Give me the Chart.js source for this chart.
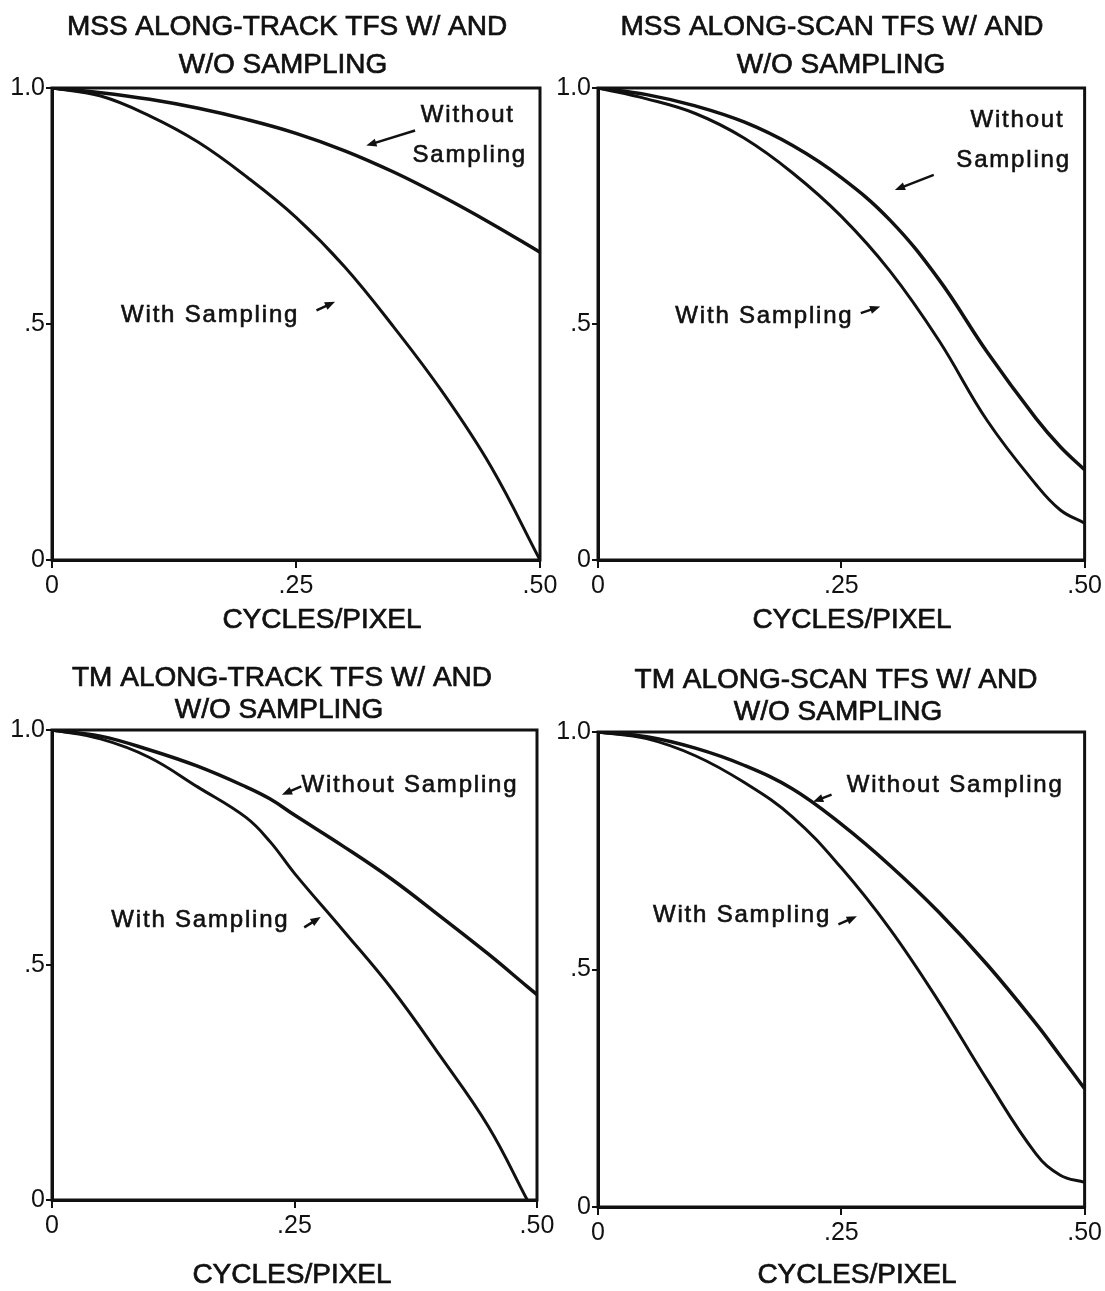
<!DOCTYPE html>
<html>
<head>
<meta charset="utf-8">
<title>TFS with and without sampling</title>
<script src="https://cdn.jsdelivr.net/npm/chart.js@4.4.1/dist/chart.umd.min.js"></script>
<style>
    body { margin: 0; background: #fff; }
    #page { position: relative; width: 1105px; height: 1291px; overflow: hidden; background: #fff; }
    .panel { position: absolute; }
</style>
</head>
<body>
<div id="page">
    <div class="panel" style="left:0;top:0;width:575px;height:645px"><canvas id="c1"></canvas></div>
    <div class="panel" style="left:552px;top:0;width:553px;height:645px"><canvas id="c2"></canvas></div>
    <div class="panel" style="left:0;top:645px;width:575px;height:646px"><canvas id="c3"></canvas></div>
    <div class="panel" style="left:552px;top:645px;width:553px;height:646px"><canvas id="c4"></canvas></div>
</div>
<script>
const xTickLabels = ['0', '.25', '.50'];
const yTickLabels = ['0', '.5', '1.0'];

// MSS along-track
const mssTrackFreq = [0, 0.05, 0.1, 0.15, 0.2, 0.25, 0.3, 0.35, 0.4, 0.45, 0.5];
const mssTrackWithout = [1.0, 0.99, 0.976, 0.957, 0.933, 0.904, 0.867, 0.822, 0.77, 0.713, 0.652];
const mssTrackWith = [1.0, 0.983, 0.941, 0.885, 0.811, 0.726, 0.621, 0.494, 0.356, 0.197, 0.0];

// MSS along-scan
const mssScanFreq = [0, 0.05, 0.1, 0.15, 0.2, 0.25, 0.3, 0.35, 0.4, 0.45, 0.475, 0.5];
const mssScanWithout = [1.0, 0.986, 0.962, 0.928, 0.878, 0.81, 0.72, 0.595, 0.44, 0.3, 0.24, 0.191];
const mssScanWith = [1.0, 0.977, 0.946, 0.894, 0.82, 0.728, 0.612, 0.466, 0.295, 0.16, 0.106, 0.078];

// TM along-track
const tmTrackFreq = [0, 0.05, 0.1, 0.15, 0.2, 0.225, 0.25, 0.3, 0.35, 0.4, 0.45, 0.49, 0.5];
const tmTrackWithout = [1.0, 0.987, 0.958, 0.923, 0.879, 0.853, 0.819, 0.753, 0.683, 0.604, 0.523, 0.454, 0.437];
const tmTrackWith = [1.0, 0.981, 0.942, 0.879, 0.814, 0.762, 0.695, 0.574, 0.45, 0.307, 0.156, 0.0, null];

// TM along-scan
const tmScanFreq = [0, 0.05, 0.1, 0.15, 0.2, 0.25, 0.3, 0.35, 0.4, 0.45, 0.475, 0.5];
const tmScanWithout = [1.0, 0.99, 0.966, 0.93, 0.88, 0.806, 0.719, 0.621, 0.51, 0.386, 0.318, 0.249];
const tmScanWith = [1.0, 0.986, 0.95, 0.894, 0.821, 0.714, 0.585, 0.433, 0.267, 0.112, 0.067, 0.052];

const FONT = '"Liberation Sans", Arial, Helvetica, sans-serif';
const INK = '#111';

const panels = [
    {
        id: 'c1', title: ['MSS ALONG-TRACK TFS W/ AND', 'W/O SAMPLING'],
        freq: mssTrackFreq, without: mssTrackWithout, withS: mssTrackWith,
        pad: { top: 88, right: 35 }, yAxisW: 52, xAxisH: 85,
        titleX: [287, 283], titleY: [27, 65], axisTitle: [322, 620],
        notes: [
            { text: 'Without', x: 0.426, y: 0.943 },
            { text: 'Sampling', x: 0.428, y: 0.858 },
            { text: 'With Sampling', x: 0.162, y: 0.519 }
        ],
        arrows: [[0.372, 0.91, 0.322, 0.878], [0.271, 0.529, 0.29, 0.547]]
    },
    {
        id: 'c2', title: ['MSS ALONG-SCAN TFS W/ AND', 'W/O SAMPLING'],
        freq: mssScanFreq, without: mssScanWithout, withS: mssScanWith,
        pad: { top: 88, right: 20 }, yAxisW: 46, xAxisH: 85,
        titleX: [280, 289], titleY: [27, 65], axisTitle: [300, 620],
        notes: [
            { text: 'Without', x: 0.431, y: 0.932 },
            { text: 'Sampling', x: 0.427, y: 0.847 },
            { text: 'With Sampling', x: 0.171, y: 0.517 }
        ],
        arrows: [[0.345, 0.816, 0.305, 0.784], [0.27, 0.523, 0.29, 0.537]]
    },
    {
        id: 'c3', title: ['TM ALONG-TRACK TFS W/ AND', 'W/O SAMPLING'],
        freq: tmTrackFreq, without: tmTrackWithout, withS: tmTrackWith,
        pad: { top: 85, right: 38 }, yAxisW: 52, xAxisH: 91,
        titleX: [282, 279], titleY: [33, 65], axisTitle: [292, 630],
        notes: [
            { text: 'Without Sampling', x: 0.369, y: 0.883 },
            { text: 'With Sampling', x: 0.153, y: 0.596 }
        ],
        arrows: [[0.257, 0.88, 0.237, 0.862], [0.26, 0.58, 0.277, 0.602]]
    },
    {
        id: 'c4', title: ['TM ALONG-SCAN TFS W/ AND', 'W/O SAMPLING'],
        freq: tmScanFreq, without: tmScanWithout, withS: tmScanWith,
        pad: { top: 87, right: 20 }, yAxisW: 46, xAxisH: 84,
        titleX: [284, 286], titleY: [35, 67], axisTitle: [305, 630],
        notes: [
            { text: 'Without Sampling', x: 0.367, y: 0.888 },
            { text: 'With Sampling', x: 0.148, y: 0.613 }
        ],
        arrows: [[0.24, 0.868, 0.221, 0.853], [0.247, 0.595, 0.266, 0.612]]
    }
];

function toPoints(xs, ys) {
    return xs.map((x, i) => ({ x: x, y: ys[i] }));
}

function drawArrow(ctx, x0, y0, x1, y1) {
    const ang = Math.atan2(y1 - y0, x1 - x0);
    const len = 11;
    ctx.beginPath();
    ctx.moveTo(x0, y0);
    ctx.lineTo(x1 - Math.cos(ang) * len * 0.6, y1 - Math.sin(ang) * len * 0.6);
    ctx.stroke();
    ctx.beginPath();
    ctx.moveTo(x1, y1);
    ctx.lineTo(x1 - len * Math.cos(ang - 0.38), y1 - len * Math.sin(ang - 0.38));
    ctx.lineTo(x1 - len * Math.cos(ang + 0.38), y1 - len * Math.sin(ang + 0.38));
    ctx.closePath();
    ctx.fill();
}

// slightly heavier text, like the printed original
function inkText(ctx, text, x, y) {
    ctx.fillText(text, x, y);
    ctx.strokeText(text, x, y);
}

// frame, titles, notes and arrows
const decorPlugin = {
    id: 'decor',
    afterDatasetsDraw(chart, args, opts) {
        const { ctx, chartArea: a, scales: { x, y } } = chart;
        ctx.save();
        ctx.strokeStyle = INK;
        ctx.fillStyle = INK;
        ctx.lineWidth = 3;
        ctx.strokeRect(a.left, a.top, a.right - a.left, a.bottom - a.top);

        ctx.textAlign = 'center';
        ctx.textBaseline = 'middle';
        ctx.lineWidth = 0.7;
        ctx.font = '28px ' + FONT;
        opts.title.forEach((line, i) => inkText(ctx, line, opts.titleX[i], opts.titleY[i]));
        inkText(ctx, 'CYCLES/PIXEL', opts.axisTitle[0], opts.axisTitle[1]);

        ctx.font = '24px ' + FONT;
        ctx.letterSpacing = '1.8px';
        ctx.lineWidth = 0.6;
        opts.notes.forEach(n => inkText(ctx, n.text, x.getPixelForValue(n.x), y.getPixelForValue(n.y)));
        ctx.letterSpacing = '0px';

        ctx.lineWidth = 2.5;
        opts.arrows.forEach(ar => drawArrow(ctx,
            x.getPixelForValue(ar[0]), y.getPixelForValue(ar[1]),
            x.getPixelForValue(ar[2]), y.getPixelForValue(ar[3])));
        ctx.restore();
    }
};

function makeChart(p) {
    const tickFont = { family: FONT, size: 25 };
    return new Chart(document.getElementById(p.id), {
        type: 'line',
        data: {
            datasets: [
                {
                    label: 'Without Sampling',
                    data: toPoints(p.freq, p.without),
                    borderColor: INK,
                    borderWidth: 3.5,
                    pointRadius: 0,
                    tension: 0.4,
                    fill: false
                },
                {
                    label: 'With Sampling',
                    data: toPoints(p.freq, p.withS),
                    borderColor: INK,
                    borderWidth: 3,
                    pointRadius: 0,
                    tension: 0.4,
                    fill: false
                }
            ]
        },
        options: {
            animation: false,
            responsive: true,
            maintainAspectRatio: false,
            layout: { padding: { top: p.pad.top, right: p.pad.right, left: 0, bottom: 0 } },
            plugins: {
                legend: { display: false },
                tooltip: { enabled: false },
                decor: {
                    title: p.title, titleX: p.titleX, titleY: p.titleY,
                    axisTitle: p.axisTitle, notes: p.notes, arrows: p.arrows
                }
            },
            scales: {
                x: {
                    type: 'linear',
                    min: 0,
                    max: 0.5,
                    ticks: {
                        stepSize: 0.25,
                        autoSkip: false,
                        maxRotation: 0,
                        padding: 3,
                        color: INK,
                        font: tickFont,
                        callback: (v, i) => xTickLabels[i]
                    },
                    grid: { drawOnChartArea: false, drawTicks: true, tickLength: 8, color: INK, lineWidth: 2 },
                    border: { display: true, color: INK, width: 3 },
                    afterFit: s => { s.height = p.xAxisH; }
                },
                y: {
                    min: 0,
                    max: 1,
                    ticks: {
                        stepSize: 0.5,
                        padding: 1,
                        color: INK,
                        font: tickFont,
                        callback: (v, i) => yTickLabels[i]
                    },
                    grid: { drawOnChartArea: false, drawTicks: true, tickLength: 6, color: INK, lineWidth: 2 },
                    border: { display: true, color: INK, width: 3 },
                    afterFit: s => { s.width = p.yAxisW; }
                }
            }
        },
        plugins: [decorPlugin]
    });
}

panels.forEach(makeChart);
</script>
</body>
</html>
